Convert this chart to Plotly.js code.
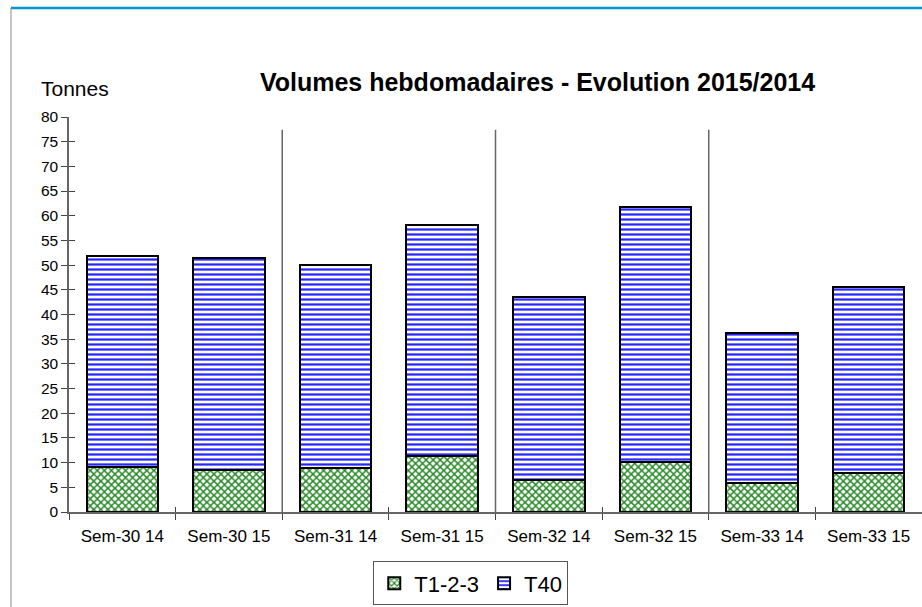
<!DOCTYPE html>
<html><head><meta charset="utf-8">
<script src="https://cdn.plot.ly/plotly-3.0.1.min.js"></script>
<style>html,body{margin:0;padding:0;background:#fff;}#chart{width:922px;height:607px;}</style>
</head><body><div id="chart"></div>
<script>
const categories = ["Sem-30 14","Sem-30 15","Sem-31 14","Sem-31 15","Sem-32 14","Sem-32 15","Sem-33 14","Sem-33 15"];
const t123 = [9.1, 8.5, 9.0, 11.3, 6.5, 10.2, 5.8, 8.0];
const t40 = [42.7, 42.9, 41.0, 46.8, 37.1, 51.6, 30.4, 37.6];
const yTicks = [0,5,10,15,20,25,30,35,40,45,50,55,60,65,70,75,80];
const separators = [1.5, 3.5, 5.5];

const traces = [
  {type:'bar', name:'T1-2-3', x:categories, y:t123, width:0.67,
   marker:{color:'#ffffff', line:{color:'#000', width:2},
     pattern:{shape:'x', fgcolor:'#2a8a2a', bgcolor:'#ffffff', size:5, solidity:0.5}}},
  {type:'bar', name:'T40', x:categories, y:t40, width:0.67,
   marker:{color:'#ffffff', line:{color:'#000', width:2},
     pattern:{shape:'-', fgcolor:'#2626ff', bgcolor:'#ffffff', size:5, solidity:0.45}}},
  {type:'scatter', mode:'markers', x:categories, y:categories.map(()=>null), xaxis:'x2', yaxis:'y2',
   showlegend:false, hoverinfo:'skip'}
];

const shapes = separators.map(s => ({type:'line', xref:'x', yref:'y', x0:s, x1:s, y0:0, y1:77.4,
  line:{color:'#666', width:1.5}}));
shapes.push({type:'line', xref:'paper', yref:'paper', x0:-0.068, x1:1.01, y0:1.276, y1:1.276, line:{color:'#0097d0', width:2.5}});
shapes.push({type:'line', xref:'paper', yref:'paper', x0:-0.068, x1:-0.068, y0:1.276, y1:-0.3, line:{color:'#888', width:1}});

const layout = {
  width:922, height:607,
  margin:{l:69, r:0, t:117, b:95},
  paper_bgcolor:'#fff', plot_bgcolor:'rgba(0,0,0,0)',
  barmode:'stack',
  font:{family:'Arial, Liberation Sans, sans-serif', color:'#000'},
  title:{text:'<b>Volumes hebdomadaires - Evolution 2015/2014</b>', font:{size:25, color:'#000'},
    x:0.583, xanchor:'center', xref:'container', y:0.865, yanchor:'middle', yref:'container'},
  xaxis:{type:'category', range:[-0.5,7.5], showgrid:false, zeroline:false, showline:true, linecolor:'#666', linewidth:1.5,
    ticks:'outside', tickson:'boundaries', ticklen:6, tickcolor:'#444', ticklabelstandoff:8, tickfont:{size:17, color:'#000'}},
  xaxis2:{type:'category', categoryarray:categories, range:[-0.5,7.5], overlaying:'x', anchor:'y', showgrid:false, zeroline:false,
    showline:false, ticks:'inside', tickson:'boundaries', ticklen:5, tickcolor:'#444', showticklabels:false},
  yaxis:{range:[0,80], tickvals:yTicks, ticktext:yTicks.map(String), showgrid:false, zeroline:false,
    showline:true, linecolor:'#666', linewidth:1.5, ticks:'outside', ticklen:6, tickcolor:'#444',
    tickfont:{size:15.5, color:'#000'}},
  yaxis2:{range:[0,80], overlaying:'y', anchor:'x', side:'left', tickvals:yTicks, showgrid:false, zeroline:false,
    showline:false, ticks:'inside', ticklen:6, tickcolor:'#444', showticklabels:false},
  showlegend:true,
  legend:{orientation:'h', x:0.471, xanchor:'center', y:-0.125, yanchor:'top',
    bordercolor:'#555', borderwidth:1, font:{size:22, color:'#000'}, traceorder:'normal', itemwidth:30},
  shapes:shapes,
  annotations:[{text:'Tonnes', xref:'paper', yref:'paper', x:0.007, y:1.073, xanchor:'center', yanchor:'middle',
    showarrow:false, font:{size:21, color:'#000'}}]
};
Plotly.newPlot('chart', traces, layout, {displayModeBar:false});
</script></body></html>
